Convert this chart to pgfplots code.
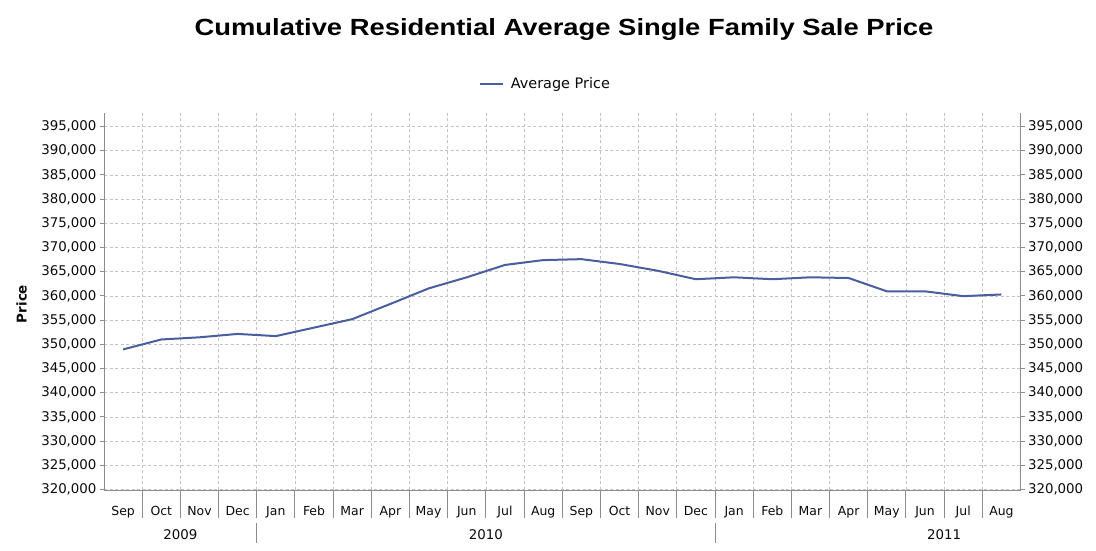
\documentclass[border=0pt]{standalone}
\usepackage{pgfplots}
\pgfplotsset{compat=1.18}
\usepackage{fontspec}
\setmainfont{DejaVu Sans}
\newfontfamily\titlefont{Liberation Sans}
\definecolor{linecol}{RGB}{72,94,158}
\definecolor{axisgray}{RGB}{140,140,140}
\definecolor{gridgray}{RGB}{195,195,195}
\definecolor{txt}{RGB}{10,10,10}
\begin{document}
\begin{tikzpicture}
\useasboundingbox (0bp,0bp) rectangle (1096bp,551bp);
\begin{axis}[
  at={(104bp,61bp)}, anchor=south west,
  scale only axis, width=916.5bp, height=377.5bp,
  xmin=-0.5, xmax=23.5, ymin=319900, ymax=397900,
  axis line style={draw=none},
  xtick={0,...,23},
  xticklabels={Sep,Oct,Nov,Dec,Jan,Feb,Mar,Apr,May,Jun,Jul,Aug,Sep,Oct,Nov,Dec,Jan,Feb,Mar,Apr,May,Jun,Jul,Aug},
  xtick style={draw=none},
  minor xtick={0.5,1.5,...,22.5},
  xminorgrids=true,
  ytick={320000,325000,...,395000},
  scaled y ticks=false,
  ymajorgrids=true,
  grid style={gridgray, dash pattern=on 3bp off 2.5bp, line width=0.7bp},
  minor grid style={gridgray, dash pattern=on 3bp off 2.5bp, line width=0.7bp},
  ytick pos=left,
  tick align=outside,
  major tick length=4bp,
  ytick style={draw=axisgray, line width=0.9bp},
  /pgf/number format/assume math mode=true,
  yticklabel style={/pgf/number format/.cd, fixed, precision=0, 1000 sep={,}, /tikz/.cd, font=\fontsize{13.4}{15}\selectfont, text=txt},
  xticklabel style={font=\fontsize{12.5}{15}\selectfont, text=txt, anchor=base, yshift=-21.5bp},
  legend style={at={(rel axis cs:0.4817,1.0755)}, anchor=center, draw=none, fill=none, font=\fontsize{14.5}{16}\selectfont, text=txt, inner sep=0pt},
  legend image code/.code={\draw[#1, line width=1.5bp] (0bp,0bp) -- (23bp,0bp); \path (28bp,0bp);},
  clip=false,
]
\addplot[linecol, line width=2bp, line join=round] coordinates {
(0,348950) (1,351000) (2,351450) (3,352150) (4,351700) (5,353450) (6,355200) (7,358350)
(8,361550) (9,363850) (10,366400) (11,367400) (12,367600) (13,366600) (14,365200) (15,363450)
(16,363850) (17,363450) (18,363850) (19,363700) (20,360950) (21,360950) (22,359950) (23,360300)
};
\addlegendentry{Average Price}
\draw[axisgray, line width=1bp] (rel axis cs:0,1) -- (rel axis cs:0,0) -- (rel axis cs:1,0) -- (rel axis cs:1,1);
\pgfplotsinvokeforeach{0,...,22}{
  \draw[axisgray, line width=0.9bp] (axis cs:#1.5,319900) -- ++(0bp,-28bp);
}
\draw[axisgray, line width=0.9bp] (axis cs:3.5,319900) ++(0bp,-33bp) -- ++(0bp,-20bp);
\draw[axisgray, line width=0.9bp] (axis cs:15.5,319900) ++(0bp,-33bp) -- ++(0bp,-20bp);
\node[font=\fontsize{13.4}{15}\selectfont, text=txt, anchor=base] at ([yshift=-49bp]axis cs:1.5,319900) {2009};
\node[font=\fontsize{13.4}{15}\selectfont, text=txt, anchor=base] at ([yshift=-49bp]axis cs:9.5,319900) {2010};
\node[font=\fontsize{13.4}{15}\selectfont, text=txt, anchor=base] at ([yshift=-49bp]axis cs:21.5,319900) {2011};
\end{axis}
\begin{axis}[
  at={(104bp,61bp)}, anchor=south west,
  scale only axis, width=916.5bp, height=377.5bp,
  xmin=-0.5, xmax=23.5, ymin=319900, ymax=397900,
  axis line style={draw=none},
  xtick=\empty,
  ytick={320000,325000,...,395000},
  scaled y ticks=false,
  ytick pos=right, yticklabel pos=right,
  tick align=outside,
  major tick length=4bp,
  ytick style={draw=axisgray, line width=0.9bp},
  /pgf/number format/assume math mode=true,
  yticklabel style={/pgf/number format/.cd, fixed, precision=0, 1000 sep={,}, /tikz/.cd, font=\fontsize{13.4}{15}\selectfont, text=txt},
]
\end{axis}
\node[font=\titlefont\bfseries\fontsize{23.5}{28}\selectfont, text=black] at (564bp,521bp) {\scalebox{1.17}[1]{Cumulative Residential Average Single Family Sale Price}};
\node[font=\bfseries\fontsize{13.5}{16}\selectfont, text=txt, rotate=90] at (21.5bp,247bp) {Price};
\end{tikzpicture}
\end{document}
